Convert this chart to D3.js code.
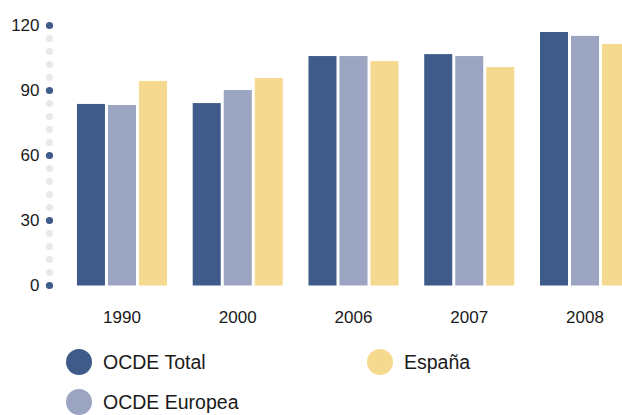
<!DOCTYPE html>
<html>
<head>
<meta charset="utf-8">
<script src="https://cdn.jsdelivr.net/npm/d3@7"></script>
<style>
  body { margin: 0; background: #fff; }
  svg { display: block; }
  text { font-family: "Liberation Sans", Arial, sans-serif; fill: #1a1a1a; }
</style>
</head>
<body>
<div id="chart"></div>
<script>
// datos
const years = ["1990", "2000", "2006", "2007", "2008"];
const series = ["OCDE Total", "OCDE Europea", "España"];
const ocdeTotal   = [83.8, 84.2, 105.9, 106.8, 117.0];
const ocdeEuropea = [83.3, 90.2, 105.9, 105.9, 115.2];
const espana      = [94.4, 95.8, 103.6, 100.8, 111.5];
const yTicks = [0, 30, 60, 90, 120];
const colors = ["#3f5b89", "#9ba5c1", "#f5d98f"];

const values = [ocdeTotal, ocdeEuropea, espana];

const W = 622, H = 415;
const svg = d3.select("#chart").append("svg")
  .attr("width", W)
  .attr("height", H);

const y = d3.scaleLinear().domain([0, 120]).range([285.5, 25.5]);

const x0 = d3.scaleBand()
  .domain(years)
  .range([64.1, 642.9])
  .paddingInner(0.222)
  .paddingOuter(0.111);

const x1 = d3.scaleBand()
  .domain(series)
  .range([0, x0.bandwidth()])
  .paddingInner(0.097);

const color = d3.scaleOrdinal().domain(series).range(colors);

//== eje y (puntos) ==//
const axisX = 49.5;
svg.append("g").selectAll("circle")
  .data(d3.range(0, 121, 6).filter(d => !yTicks.includes(d)))
  .enter().append("circle")
  .attr("cx", axisX)
  .attr("cy", d => y(d))
  .attr("r", 3.6)
  .style("fill", "#e8e9ea");

svg.append("g").selectAll("circle")
  .data(yTicks)
  .enter().append("circle")
  .attr("cx", axisX)
  .attr("cy", d => y(d))
  .attr("r", 3.6)
  .style("fill", colors[0]);

svg.append("g").selectAll("text")
  .data(yTicks)
  .enter().append("text")
  .attr("x", 39.5)
  .attr("y", d => y(d))
  .attr("dy", "0.35em")
  .attr("text-anchor", "end")
  .style("font-size", "17px")
  .text(d => d);

//== barras ==//
const groups = svg.append("g").selectAll("g")
  .data(years)
  .enter().append("g")
  .attr("transform", d => `translate(${x0(d)},0)`);

groups.selectAll("rect")
  .data((d, i) => series.map((s, j) => ({ s: s, v: values[j][i] })))
  .enter().append("rect")
  .attr("x", d => x1(d.s))
  .attr("y", d => y(d.v))
  .attr("width", x1.bandwidth())
  .attr("height", d => y(0) - y(d.v))
  .style("fill", d => color(d.s));

//== etiquetas x ==//
svg.append("g").selectAll("text")
  .data(years)
  .enter().append("text")
  .attr("x", d => x0(d) + x0.bandwidth() / 2)
  .attr("y", 323)
  .attr("text-anchor", "middle")
  .style("font-size", "17px")
  .text(d => d);

//== leyenda ==//
const legendPos = [[79, 362], [79, 402], [380, 362]];
const legend = svg.append("g").selectAll("g")
  .data(series)
  .enter().append("g")
  .attr("transform", (d, i) => `translate(${legendPos[i][0]},${legendPos[i][1]})`);

legend.append("circle")
  .attr("r", 13)
  .style("fill", d => color(d));

legend.append("text")
  .attr("x", 24)
  .attr("dy", "0.36em")
  .style("font-size", "19.5px")
  .text(d => d);
</script>
</body>
</html>
